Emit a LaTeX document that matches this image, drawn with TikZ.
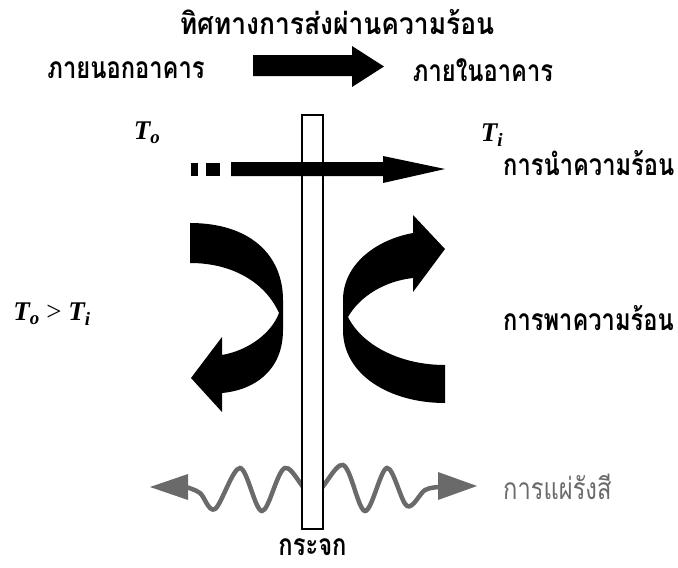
\documentclass[tikz,border=0pt]{standalone}
\usepackage{fontspec}
\setmainfont{Liberation Serif}
\newfontfamily\thaifont[Script=Thai,FakeStretch=0.79]{Loma}
\newfontfamily\thaiwide[Script=Thai,FakeStretch=0.88]{Loma}
\usetikzlibrary{positioning}
\definecolor{ink}{HTML}{000000}
\definecolor{ray}{HTML}{6A6A6A}

\tikzset{
  thai/.style={font=\thaifont\bfseries\fontsize{30}{32}\selectfont, inner sep=0pt},
  thaititle/.style={font=\thaiwide\bfseries\fontsize{30}{32}\selectfont, inner sep=0pt},
  thailight/.style={font=\thaifont\fontsize{30}{32}\selectfont, inner sep=0pt, text=ray},
  temp/.style={font=\bfseries\itshape\fontsize{27}{29}\selectfont, inner sep=0pt},
  ribbon/.style={fill=ink, draw=none},
}

\begin{document}
\begin{tikzpicture}[x=1pt, y=-1pt]
  \useasboundingbox (0,0) rectangle (678,568);

  % labels at the top
  \node[thaititle] (title) at (337,22) {ทิศทางการส่งผ่านความร้อน};
  \node[thai] (outside) at (126,70) {ภายนอกอาคาร};
  \node[thai] (inside) at (483,70) {ภายในอาคาร};
  \fill[ink] (253,55) -- (352,55) -- (352,46) -- (384,66.5) -- (352,87) -- (352,76) -- (253,76) -- cycle;

  % radiation wave, behind the glass
  \draw[ray, line width=4.5pt, line cap=round] plot[smooth, tension=0.55] coordinates {
    (186,487) (200,493) (215,509) (240,468) (262,511) (285,468) (313,495)
    (343,465) (365,511) (387,468) (407,506) (425,490) (440,487)};
  \fill[ray] (150,487) -- (188,474) -- (188,500) -- cycle;
  \fill[ray] (477,486) -- (438,472) -- (438,500) -- cycle;

  % glass pane
  \node[draw=ink, line width=1.2pt, fill=white, minimum width=21pt, minimum height=414pt,
        inner sep=0pt] (glass) at (312.5,322) {};
  \node[thai, below=9pt of glass] (glasslabel) {กระจก};

  % conduction
  \fill[ink] (191,163) rectangle (198,176);
  \fill[ink] (206,163) rectangle (220,176);
  \fill[ink] (231,162) -- (383,162) -- (383,156) -- (445,169) -- (383,183) -- (383,176) -- (231,176) -- cycle;

  % convection, outside
  \fill[ribbon] (190,223) .. controls (250,223) and (283,255) .. (283,300)
    -- (283,330) .. controls (283,370) and (255,390) .. (222,393)
    -- (222,412) -- (191,378) -- (222,337) -- (222,355)
    .. controls (250,350) and (272,332) .. (279,313)
    .. controls (265,282) and (232,263) .. (190,263) -- cycle;
  % convection, inside
  \fill[ribbon] (445,249) -- (413,215) -- (413,233)
    .. controls (375,240) and (343,265) .. (343,300)
    -- (343,330) .. controls (343,375) and (390,403) .. (445,403)
    -- (445,365) .. controls (400,365) and (362,345) .. (348,317)
    .. controls (360,296) and (385,281) .. (413,278)
    -- (413,292) -- cycle;

  % temperatures
  \node[temp] (tout) at (147,133) {T\textsubscript{o}};
  \node[temp] (tin) at (492,135) {T\textsubscript{i}};
  \node[temp] (tcmp) at (52,314) {T\textsubscript{o} {\upshape\mdseries >} T\textsubscript{i}};

  % modes
  \node[thai, anchor=west] (conduction) at (503,163) {การนำความร้อน};
  \node[thai, anchor=west] (convection) at (503,318) {การพาความร้อน};
  \node[thailight, anchor=west] (radiation) at (503,487) {การแผ่รังสี};
\end{tikzpicture}
\end{document}
